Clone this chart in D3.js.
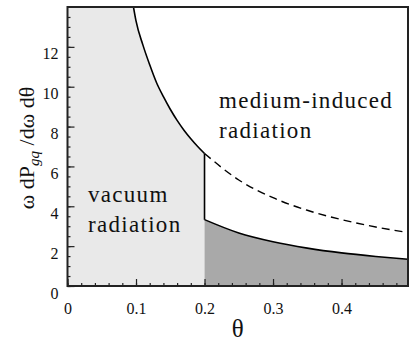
<!DOCTYPE html>
<html>
<head>
    <script src="https://d3js.org/d3.v7.min.js"></script>
    <style>
        body { margin: 0; background: #fff; }
        .axis path { display: none; }
        .axis line { stroke: #222; stroke-width: 1.2; }
    </style>
</head>
<body>
<div id="chart"></div>
<script>
    var serif = "'Liberation Serif', 'DejaVu Serif', 'Noto Serif', 'Times New Roman', Times, serif";

    // values
    var xMax = 0.497, yMax = 14;

    // vacuum curve, theta < 0.2 (solid)
    var vacTheta = [0.0963, 0.10, 0.11, 0.12, 0.13, 0.14, 0.15, 0.16, 0.17, 0.18, 0.19, 0.20];
    var vacValue = [14.0, 13.3, 12.1, 11.1, 10.2, 9.5, 8.87, 8.31, 7.82, 7.39, 7.0, 6.65];

    // its continuation past 0.2 (dashed)
    var dashTheta = [0.20, 0.25, 0.30, 0.35, 0.40, 0.45, 0.497];
    var dashValue = [6.65, 5.32, 4.43, 3.8, 3.33, 2.96, 2.68];

    // medium-induced lower curve (solid, dark fill below)
    var medTheta = [0.20, 0.25, 0.30, 0.35, 0.40, 0.45, 0.497];
    var medValue = [3.33, 2.66, 2.22, 1.9, 1.66, 1.48, 1.34];

    var xMajor = [0, 0.1, 0.2, 0.3, 0.4];
    var xMinor = d3.range(0, 0.5, 0.02);
    var yMajor = [0, 2, 4, 6, 8, 10, 12];
    var yMinor = d3.range(0, 14, 0.5);

    var width = 415, height = 344;
    var margin = { top: 7, right: 7, bottom: 58, left: 67.5 };
    var w = width - margin.left - margin.right;
    var h = height - margin.top - margin.bottom;

    var svg = d3.select("#chart").append("svg")
        .attr("width", width)
        .attr("height", height);

    var g = svg.append("g")
        .attr("transform", "translate(" + margin.left + "," + margin.top + ")");

    var x = d3.scaleLinear().domain([0, xMax]).range([0, w]);
    var y = d3.scaleLinear().domain([0, yMax]).range([h, 0]);

    g.append("clipPath").attr("id", "clip")
        .append("rect").attr("width", w).attr("height", h);

    var vac = vacTheta.map((t, i) => [t, vacValue[i]]);
    var dash = dashTheta.map((t, i) => [t, dashValue[i]]);
    var med = medTheta.map((t, i) => [t, medValue[i]]);

    var area = d3.area()
        .x(d => x(d[0]))
        .y0(y(0))
        .y1(d => y(d[1]))
        .curve(d3.curveMonotoneX);

    var line = d3.line()
        .x(d => x(d[0]))
        .y(d => y(d[1]))
        .curve(d3.curveMonotoneX);

    var plot = g.append("g").attr("clip-path", "url(#clip)");

    // light grey: vacuum region
    plot.append("path")
        .datum([[0, yMax]].concat(vac))
        .attr("d", area)
        .attr("fill", "#e9e9e9");

    // dark grey under medium curve
    plot.append("path")
        .datum(med)
        .attr("d", area)
        .attr("fill", "#a9a9a9");

    plot.append("path")
        .datum(vac)
        .attr("d", line)
        .attr("fill", "none")
        .attr("stroke", "#000")
        .attr("stroke-width", 1.6);

    plot.append("path")
        .datum(dash)
        .attr("d", line)
        .attr("fill", "none")
        .attr("stroke", "#000")
        .attr("stroke-width", 1.4)
        .attr("stroke-dasharray", "8,5");

    plot.append("path")
        .datum(med)
        .attr("d", line)
        .attr("fill", "none")
        .attr("stroke", "#000")
        .attr("stroke-width", 1.6);

    // vertical step at theta = 0.2
    plot.append("line")
        .attr("x1", x(medTheta[0])).attr("x2", x(medTheta[0]))
        .attr("y1", y(medValue[0])).attr("y2", y(vacValue[vacValue.length - 1]))
        .attr("stroke", "#000")
        .attr("stroke-width", 1.6);

    // ticks, pointing inward
    g.append("g").attr("class", "axis")
        .attr("transform", "translate(0," + h + ")")
        .call(d3.axisBottom(x).tickValues(xMinor).tickSize(-3).tickFormat(""));
    var xa = g.append("g").attr("class", "axis")
        .attr("transform", "translate(0," + h + ")")
        .call(d3.axisBottom(x).tickValues(xMajor).tickSize(-7).tickPadding(17)
            .tickFormat(d => d === 0 ? "0" : d3.format(".1f")(d)));

    g.append("g").attr("class", "axis")
        .call(d3.axisLeft(y).tickValues(yMinor).tickSize(-3).tickFormat(""));
    var ya = g.append("g").attr("class", "axis")
        .call(d3.axisLeft(y).tickValues(yMajor).tickSize(-7).tickPadding(9));
    ya.selectAll("text").attr("dy", "0.75em");

    svg.selectAll(".axis")
        .attr("font-family", serif)
        .attr("font-size", 16);
    svg.selectAll(".axis text").attr("fill", "#111");

    // frame
    g.append("rect")
        .attr("width", w).attr("height", h)
        .attr("fill", "none")
        .attr("stroke", "#222")
        .attr("stroke-width", 2);

    // region labels
    var lab = g.append("g")
        .attr("font-family", serif)
        .attr("font-size", 23)
        .attr("fill", "#111")
        .style("letter-spacing", "1.3px");
    lab.append("text").attr("x", 20.5).attr("y", 195).text("vacuum");
    lab.append("text").attr("x", 20.5).attr("y", 225).text("radiation");
    lab.append("text").attr("x", 151.5).attr("y", 101).text("medium-induced");
    lab.append("text").attr("x", 151.5).attr("y", 131).text("radiation");

    // axis titles
    svg.append("text")
        .attr("x", margin.left + w / 2)
        .attr("y", 337)
        .attr("text-anchor", "middle")
        .attr("font-family", serif)
        .attr("font-size", 25)
        .attr("fill", "#111")
        .text("θ");

    var yl = svg.append("text")
        .attr("transform", "translate(34," + (margin.top + 141) + ") rotate(-90)")
        .attr("text-anchor", "middle")
        .attr("font-family", serif)
        .attr("font-size", 22)
        .attr("fill", "#111");
    yl.append("tspan").text("ω dP");
    yl.append("tspan").attr("dy", 5).attr("font-size", 15).attr("font-style", "italic").text("gq");
    yl.append("tspan").attr("dy", -5).text(" /dω dθ");
</script>
</body>
</html>
